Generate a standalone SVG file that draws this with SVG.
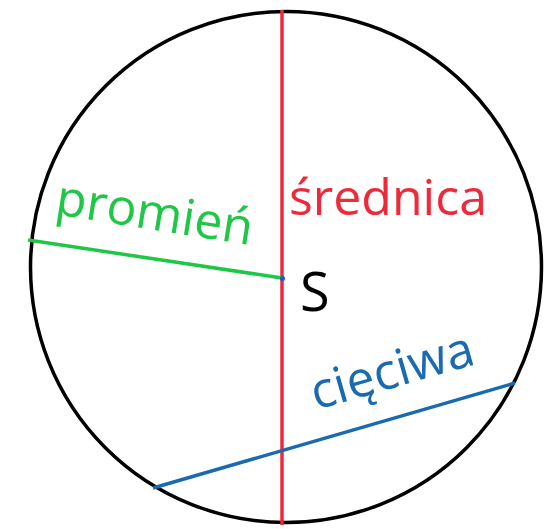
<svg xmlns="http://www.w3.org/2000/svg" width="551" height="529" viewBox="0 0 551 529">
<style>
text{font-family:"Open Sans","Noto Sans","DejaVu Sans",sans-serif;}
.seg{fill:none;stroke-width:3.5;stroke-linecap:butt;}
.lbl{font-size:50px;}
</style>
<rect width="551" height="529" fill="#ffffff"/>
<g id="circle"><circle cx="286" cy="267" r="255.5" fill="none" stroke="#000" stroke-width="3.5"/></g>
<g id="connectors">
<line class="seg" x1="282" y1="10" x2="282" y2="525" stroke="#ee2a3a"/>
<line class="seg" x1="28" y1="240" x2="282" y2="278" stroke="#1ec846"/>
<line class="seg" x1="153" y1="488" x2="515" y2="383" stroke="#1a6ab2"/>
</g>
<g id="center"><circle cx="282.5" cy="278.5" r="2.5" fill="#3a4ad0"/><text x="300" y="311" font-size="54" fill="#000">S</text></g>
<g id="diameter-label"><text class="lbl" x="289" y="215" fill="#ee2a3a">średnica</text></g>
<g id="radius-label"><text class="lbl" transform="translate(54 214) rotate(9)" fill="#1ec846">promień</text></g>
<g id="chord-label"><text class="lbl" transform="translate(316 410) rotate(-16)" fill="#1a6ab2">cięciwa</text></g>
</svg>
